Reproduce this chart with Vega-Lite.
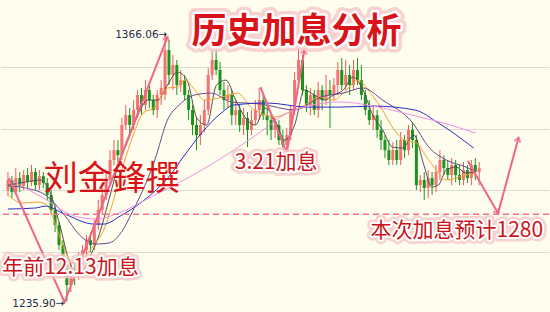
{
  "$schema": "https://vega.github.io/schema/vega-lite/v6.json",
  "width": 550,
  "height": 312,
  "padding": 0,
  "autosize": {"type": "fit", "contains": "padding"},
  "background": "#fffdee",
  "config": {"view": {"stroke": null}},
  "datasets": {
    "candles": [
      {"i":0,"o":1290.1,"h":1298.9,"l":1287.2,"c":1295.0},
      {"i":1,"o":1295.0,"h":1296.9,"l":1286.2,"c":1289.1},
      {"i":2,"o":1289.1,"h":1300.8,"l":1287.7,"c":1295.9},
      {"i":3,"o":1295.9,"h":1298.9,"l":1289.1,"c":1292.1},
      {"i":4,"o":1292.1,"h":1299.8,"l":1290.1,"c":1297.4},
      {"i":5,"o":1297.4,"h":1300.8,"l":1291.1,"c":1294.0},
      {"i":6,"o":1294.0,"h":1302.3,"l":1292.1,"c":1298.9},
      {"i":7,"o":1298.9,"h":1300.8,"l":1290.1,"c":1292.5},
      {"i":8,"o":1292.5,"h":1299.8,"l":1290.1,"c":1296.9},
      {"i":9,"o":1296.9,"h":1298.9,"l":1291.1,"c":1293.5},
      {"i":10,"o":1293.5,"h":1295.9,"l":1285.3,"c":1287.7},
      {"i":11,"o":1287.7,"h":1290.1,"l":1278.0,"c":1280.4},
      {"i":12,"o":1280.4,"h":1282.8,"l":1269.7,"c":1273.1},
      {"i":13,"o":1273.1,"h":1274.6,"l":1261.0,"c":1263.4},
      {"i":14,"o":1263.4,"h":1265.8,"l":1248.8,"c":1253.7},
      {"i":15,"o":1253.7,"h":1257.1,"l":1235.9,"c":1244.0},
      {"i":16,"o":1244.0,"h":1255.1,"l":1240.6,"c":1252.2},
      {"i":17,"o":1252.2,"h":1255.1,"l":1244.0,"c":1248.8},
      {"i":18,"o":1248.8,"h":1260.0,"l":1246.4,"c":1257.1},
      {"i":19,"o":1257.1,"h":1263.4,"l":1253.7,"c":1261.0},
      {"i":20,"o":1261.0,"h":1268.3,"l":1257.1,"c":1265.8},
      {"i":21,"o":1265.8,"h":1269.7,"l":1260.0,"c":1263.4},
      {"i":22,"o":1263.4,"h":1275.5,"l":1261.0,"c":1273.1},
      {"i":23,"o":1273.1,"h":1285.3,"l":1270.7,"c":1280.4},
      {"i":24,"o":1280.4,"h":1291.1,"l":1278.0,"c":1287.7},
      {"i":25,"o":1287.7,"h":1298.9,"l":1285.3,"c":1295.0},
      {"i":26,"o":1295.0,"h":1309.5,"l":1292.5,"c":1304.7},
      {"i":27,"o":1304.7,"h":1314.4,"l":1302.3,"c":1309.5},
      {"i":28,"o":1309.5,"h":1314.4,"l":1303.7,"c":1307.1},
      {"i":29,"o":1307.1,"h":1325.1,"l":1304.7,"c":1321.7},
      {"i":30,"o":1321.7,"h":1331.4,"l":1319.3,"c":1326.5},
      {"i":31,"o":1326.5,"h":1329.9,"l":1316.8,"c":1321.7},
      {"i":32,"o":1321.7,"h":1333.8,"l":1319.3,"c":1329.0},
      {"i":33,"o":1329.0,"h":1338.7,"l":1325.1,"c":1336.3},
      {"i":34,"o":1336.3,"h":1339.7,"l":1326.5,"c":1331.4},
      {"i":35,"o":1331.4,"h":1343.5,"l":1329.0,"c":1338.7},
      {"i":36,"o":1338.7,"h":1341.1,"l":1329.9,"c":1333.8},
      {"i":37,"o":1333.8,"h":1336.3,"l":1326.5,"c":1329.0},
      {"i":38,"o":1329.0,"h":1338.7,"l":1325.1,"c":1336.3},
      {"i":39,"o":1336.3,"h":1343.5,"l":1331.4,"c":1339.7},
      {"i":40,"o":1336.3,"h":1366.06,"l":1333.8,"c":1358.1},
      {"i":41,"o":1358.1,"h":1363.0,"l":1341.1,"c":1346.0},
      {"i":42,"o":1346.0,"h":1355.7,"l":1338.7,"c":1350.8},
      {"i":43,"o":1350.8,"h":1353.3,"l":1336.3,"c":1341.1},
      {"i":44,"o":1341.1,"h":1348.4,"l":1337.7,"c":1343.5},
      {"i":45,"o":1343.5,"h":1346.0,"l":1333.8,"c":1336.3},
      {"i":46,"o":1336.3,"h":1338.7,"l":1324.1,"c":1329.0},
      {"i":47,"o":1329.0,"h":1331.4,"l":1316.8,"c":1321.7},
      {"i":48,"o":1321.7,"h":1325.1,"l":1309.5,"c":1316.8},
      {"i":49,"o":1316.8,"h":1326.5,"l":1312.0,"c":1321.7},
      {"i":50,"o":1321.7,"h":1333.8,"l":1318.3,"c":1329.0},
      {"i":51,"o":1329.0,"h":1349.4,"l":1326.5,"c":1346.0},
      {"i":52,"o":1346.0,"h":1358.1,"l":1343.5,"c":1353.3},
      {"i":53,"o":1353.3,"h":1360.5,"l":1346.0,"c":1348.4},
      {"i":54,"o":1348.4,"h":1352.3,"l":1336.3,"c":1338.7},
      {"i":55,"o":1338.7,"h":1342.6,"l":1329.0,"c":1333.8},
      {"i":56,"o":1333.8,"h":1341.1,"l":1329.9,"c":1336.3},
      {"i":57,"o":1336.3,"h":1338.7,"l":1321.7,"c":1326.5},
      {"i":58,"o":1326.5,"h":1333.8,"l":1321.7,"c":1329.0},
      {"i":59,"o":1329.0,"h":1331.4,"l":1318.3,"c":1321.7},
      {"i":60,"o":1321.7,"h":1329.9,"l":1316.8,"c":1325.1},
      {"i":61,"o":1325.1,"h":1328.0,"l":1311.0,"c":1319.3},
      {"i":62,"o":1319.3,"h":1329.0,"l":1316.8,"c":1324.1},
      {"i":63,"o":1324.1,"h":1333.8,"l":1321.7,"c":1329.0},
      {"i":64,"o":1329.0,"h":1339.7,"l":1324.1,"c":1333.8},
      {"i":65,"o":1333.8,"h":1336.3,"l":1324.1,"c":1326.5},
      {"i":66,"o":1326.5,"h":1331.4,"l":1316.8,"c":1324.1},
      {"i":67,"o":1324.1,"h":1326.5,"l":1314.4,"c":1319.3},
      {"i":68,"o":1319.3,"h":1325.1,"l":1315.4,"c":1321.7},
      {"i":69,"o":1321.7,"h":1324.1,"l":1312.0,"c":1314.4},
      {"i":70,"o":1314.4,"h":1319.3,"l":1308.6,"c":1312.0},
      {"i":71,"o":1312.0,"h":1320.2,"l":1307.1,"c":1316.8},
      {"i":72,"o":1316.8,"h":1331.4,"l":1314.4,"c":1329.0},
      {"i":73,"o":1329.0,"h":1347.4,"l":1326.5,"c":1343.5},
      {"i":74,"o":1343.5,"h":1359.1,"l":1341.1,"c":1353.3},
      {"i":75,"o":1353.3,"h":1355.7,"l":1336.3,"c":1338.7},
      {"i":76,"o":1338.7,"h":1341.1,"l":1328.0,"c":1331.4},
      {"i":77,"o":1331.4,"h":1339.7,"l":1326.5,"c":1336.3},
      {"i":78,"o":1336.3,"h":1338.7,"l":1326.5,"c":1329.0},
      {"i":79,"o":1329.0,"h":1342.6,"l":1325.1,"c":1338.7},
      {"i":80,"o":1338.7,"h":1341.1,"l":1329.0,"c":1333.8},
      {"i":81,"o":1333.8,"h":1346.0,"l":1331.4,"c":1338.7},
      {"i":82,"o":1338.7,"h":1343.5,"l":1320.2,"c":1336.3},
      {"i":83,"o":1336.3,"h":1344.5,"l":1333.8,"c":1341.1},
      {"i":84,"o":1341.1,"h":1352.3,"l":1336.3,"c":1348.4},
      {"i":85,"o":1348.4,"h":1354.2,"l":1338.7,"c":1341.1},
      {"i":86,"o":1341.1,"h":1353.3,"l":1338.7,"c":1346.0},
      {"i":87,"o":1346.0,"h":1350.8,"l":1336.3,"c":1341.1},
      {"i":88,"o":1341.1,"h":1353.3,"l":1338.7,"c":1348.4},
      {"i":89,"o":1348.4,"h":1354.2,"l":1341.1,"c":1343.5},
      {"i":90,"o":1343.5,"h":1350.8,"l":1333.8,"c":1336.3},
      {"i":91,"o":1336.3,"h":1338.7,"l":1326.5,"c":1329.0},
      {"i":92,"o":1329.0,"h":1333.8,"l":1321.7,"c":1324.1},
      {"i":93,"o":1324.1,"h":1331.4,"l":1319.3,"c":1326.5},
      {"i":94,"o":1326.5,"h":1329.0,"l":1315.4,"c":1319.3},
      {"i":95,"o":1319.3,"h":1324.1,"l":1309.5,"c":1314.4},
      {"i":96,"o":1314.4,"h":1316.8,"l":1305.7,"c":1309.5},
      {"i":97,"o":1309.5,"h":1314.4,"l":1302.3,"c":1304.7},
      {"i":98,"o":1304.7,"h":1313.4,"l":1302.3,"c":1309.5},
      {"i":99,"o":1309.5,"h":1314.4,"l":1302.3,"c":1304.7},
      {"i":100,"o":1304.7,"h":1318.3,"l":1302.3,"c":1314.4},
      {"i":101,"o":1314.4,"h":1316.8,"l":1305.7,"c":1309.5},
      {"i":102,"o":1309.5,"h":1321.7,"l":1307.1,"c":1319.3},
      {"i":103,"o":1319.3,"h":1323.1,"l":1310.5,"c":1314.4},
      {"i":104,"o":1314.4,"h":1316.8,"l":1290.1,"c":1292.5},
      {"i":105,"o":1292.5,"h":1297.4,"l":1289.1,"c":1295.0},
      {"i":106,"o":1295.0,"h":1298.9,"l":1285.3,"c":1291.1},
      {"i":107,"o":1291.1,"h":1299.8,"l":1286.2,"c":1295.9},
      {"i":108,"o":1295.9,"h":1298.9,"l":1287.7,"c":1292.5},
      {"i":109,"o":1292.5,"h":1302.3,"l":1289.1,"c":1298.9},
      {"i":110,"o":1298.9,"h":1309.5,"l":1295.0,"c":1304.7},
      {"i":111,"o":1304.7,"h":1307.1,"l":1297.4,"c":1300.8},
      {"i":112,"o":1300.8,"h":1304.7,"l":1295.0,"c":1297.4},
      {"i":113,"o":1297.4,"h":1305.7,"l":1292.5,"c":1302.3},
      {"i":114,"o":1302.3,"h":1304.7,"l":1294.0,"c":1297.4},
      {"i":115,"o":1297.4,"h":1302.3,"l":1292.5,"c":1295.0},
      {"i":116,"o":1295.0,"h":1303.7,"l":1292.5,"c":1299.8},
      {"i":117,"o":1299.8,"h":1302.3,"l":1293.5,"c":1295.9},
      {"i":118,"o":1295.9,"h":1304.7,"l":1292.5,"c":1302.3},
      {"i":119,"o":1302.3,"h":1305.7,"l":1295.0,"c":1298.9},
      {"i":120,"o":1298.9,"h":1303.7,"l":1292.5,"c":1300.8}
    ],
    "ma": [
      {"m":"ma5","i":0,"v":1292.5},{"m":"ma5","i":4.5,"v":1294.0},{"m":"ma5","i":8.2,"v":1295.0},{"m":"ma5","i":10.7,"v":1289.1},{"m":"ma5","i":13.2,"v":1273.1},{"m":"ma5","i":15.7,"v":1255.1},{"m":"ma5","i":18.2,"v":1248.8},{"m":"ma5","i":20.7,"v":1257.1},{"m":"ma5","i":23.2,"v":1268.3},{"m":"ma5","i":25.7,"v":1285.3},{"m":"ma5","i":28.1,"v":1302.3},{"m":"ma5","i":30.6,"v":1314.4},{"m":"ma5","i":33.1,"v":1326.5},{"m":"ma5","i":35.6,"v":1333.8},{"m":"ma5","i":38.1,"v":1333.8},{"m":"ma5","i":40.6,"v":1341.1},{"m":"ma5","i":43.1,"v":1347.4},{"m":"ma5","i":45.6,"v":1343.5},{"m":"ma5","i":48.1,"v":1325.1},{"m":"ma5","i":50.6,"v":1321.7},{"m":"ma5","i":53.1,"v":1341.1},{"m":"ma5","i":55.5,"v":1343.5},{"m":"ma5","i":58.0,"v":1333.8},{"m":"ma5","i":60.5,"v":1325.1},{"m":"ma5","i":63.0,"v":1321.7},{"m":"ma5","i":65.5,"v":1329.9},{"m":"ma5","i":68.0,"v":1324.1},{"m":"ma5","i":70.5,"v":1314.4},{"m":"ma5","i":73.0,"v":1321.7},{"m":"ma5","i":75.5,"v":1338.7},{"m":"ma5","i":78.0,"v":1336.3},{"m":"ma5","i":80.5,"v":1333.8},{"m":"ma5","i":83.0,"v":1336.3},{"m":"ma5","i":85.4,"v":1338.7},{"m":"ma5","i":87.9,"v":1345.0},{"m":"ma5","i":90.4,"v":1338.7},{"m":"ma5","i":92.9,"v":1326.5},{"m":"ma5","i":95.4,"v":1319.3},{"m":"ma5","i":97.9,"v":1311.0},{"m":"ma5","i":100.4,"v":1310.5},{"m":"ma5","i":103.4,"v":1316.8},{"m":"ma5","i":105.9,"v":1302.3},{"m":"ma5","i":107.9,"v":1291.6},{"m":"ma5","i":109.6,"v":1292.5},{"m":"ma5","i":111.6,"v":1299.8},{"m":"ma5","i":114.1,"v":1301.3},{"m":"ma5","i":116.6,"v":1298.4},{"m":"ma5","i":119.1,"v":1298.9},
      {"m":"ma10","i":0,"v":1287.7},{"m":"ma10","i":3.7,"v":1283.8},{"m":"ma10","i":7.7,"v":1284.3},{"m":"ma10","i":10.0,"v":1282.8},{"m":"ma10","i":12.0,"v":1274.1},{"m":"ma10","i":14.4,"v":1261.0},{"m":"ma10","i":16.9,"v":1254.7},{"m":"ma10","i":19.4,"v":1257.6},{"m":"ma10","i":21.9,"v":1263.4},{"m":"ma10","i":24.4,"v":1270.7},{"m":"ma10","i":26.9,"v":1285.3},{"m":"ma10","i":29.4,"v":1302.3},{"m":"ma10","i":31.9,"v":1316.8},{"m":"ma10","i":34.4,"v":1327.5},{"m":"ma10","i":37.4,"v":1330.4},{"m":"ma10","i":40.6,"v":1339.7},{"m":"ma10","i":43.1,"v":1340.1},{"m":"ma10","i":45.1,"v":1343.5},{"m":"ma10","i":47.6,"v":1338.7},{"m":"ma10","i":50.1,"v":1333.8},{"m":"ma10","i":53.6,"v":1334.8},{"m":"ma10","i":58.5,"v":1337.2},{"m":"ma10","i":61.8,"v":1330.4},{"m":"ma10","i":64.3,"v":1327.5},{"m":"ma10","i":68.0,"v":1325.6},{"m":"ma10","i":71.2,"v":1327.5},{"m":"ma10","i":74.7,"v":1330.4},{"m":"ma10","i":79.7,"v":1335.3},{"m":"ma10","i":83.0,"v":1333.8},{"m":"ma10","i":85.4,"v":1337.2},{"m":"ma10","i":89.2,"v":1343.5},{"m":"ma10","i":91.7,"v":1338.7},{"m":"ma10","i":94.9,"v":1330.4},{"m":"ma10","i":98.4,"v":1319.3},{"m":"ma10","i":100.9,"v":1314.4},{"m":"ma10","i":104.1,"v":1312.9},{"m":"ma10","i":106.6,"v":1306.1},{"m":"ma10","i":109.1,"v":1299.8},{"m":"ma10","i":111.6,"v":1295.0},{"m":"ma10","i":116.6,"v":1297.4},{"m":"ma10","i":119.1,"v":1298.4},
      {"m":"ma20","i":0,"v":1292.1},{"m":"ma20","i":4.5,"v":1291.1},{"m":"ma20","i":9.5,"v":1287.7},{"m":"ma20","i":14.4,"v":1278.0},{"m":"ma20","i":18.2,"v":1268.3},{"m":"ma20","i":22.7,"v":1263.9},{"m":"ma20","i":25.7,"v":1264.4},{"m":"ma20","i":28.9,"v":1269.7},{"m":"ma20","i":31.9,"v":1280.4},{"m":"ma20","i":34.9,"v":1292.5},{"m":"ma20","i":37.4,"v":1304.7},{"m":"ma20","i":40.6,"v":1324.1},{"m":"ma20","i":43.6,"v":1331.4},{"m":"ma20","i":47.6,"v":1336.3},{"m":"ma20","i":51.8,"v":1337.2},{"m":"ma20","i":56.8,"v":1332.9},{"m":"ma20","i":64.3,"v":1331.9},{"m":"ma20","i":73.0,"v":1329.0},{"m":"ma20","i":79.7,"v":1335.3},{"m":"ma20","i":85.4,"v":1337.2},{"m":"ma20","i":90.4,"v":1339.7},{"m":"ma20","i":95.4,"v":1333.8},{"m":"ma20","i":102.9,"v":1323.1},{"m":"ma20","i":107.4,"v":1310.5},{"m":"ma20","i":111.6,"v":1304.7},{"m":"ma20","i":116.6,"v":1301.3},{"m":"ma20","i":119.1,"v":1298.9},
      {"m":"ma60","i":0,"v":1280.9},{"m":"ma60","i":7.0,"v":1281.4},{"m":"ma60","i":9.5,"v":1282.3},{"m":"ma60","i":14.4,"v":1278.5},{"m":"ma60","i":21.9,"v":1273.6},{"m":"ma60","i":24.4,"v":1273.6},{"m":"ma60","i":28.6,"v":1277.5},{"m":"ma60","i":34.4,"v":1284.8},{"m":"ma60","i":41.1,"v":1296.9},{"m":"ma60","i":44.8,"v":1306.6},{"m":"ma60","i":49.3,"v":1317.8},{"m":"ma60","i":54.3,"v":1327.5},{"m":"ma60","i":57.5,"v":1331.4},{"m":"ma60","i":66.0,"v":1332.4},{"m":"ma60","i":76.2,"v":1330.4},{"m":"ma60","i":84.7,"v":1330.4},{"m":"ma60","i":92.9,"v":1330.9},{"m":"ma60","i":103.6,"v":1329.0},{"m":"ma60","i":109.6,"v":1322.7},{"m":"ma60","i":118.6,"v":1310.5},
      {"m":"ma120","i":0,"v":1295.9},{"m":"ma120","i":9.5,"v":1285.7},{"m":"ma120","i":16.9,"v":1277.5},{"m":"ma120","i":22.7,"v":1276.0},{"m":"ma120","i":27.6,"v":1278.5},{"m":"ma120","i":36.9,"v":1287.2},{"m":"ma120","i":49.3,"v":1299.8},{"m":"ma120","i":56.8,"v":1308.6},{"m":"ma120","i":64.3,"v":1318.3},{"m":"ma120","i":71.7,"v":1328.0},{"m":"ma120","i":84.7,"v":1332.9},{"m":"ma120","i":92.9,"v":1330.9},{"m":"ma120","i":102.9,"v":1326.5},{"m":"ma120","i":110.8,"v":1322.7},{"m":"ma120","i":119.1,"v":1317.8}
    ],
    "arrows": [
      {"s":"a","k":0,"i":0.25,"p":1295.9},{"s":"a","k":1,"i":14.4,"p":1235.7},{"s":"a","k":2,"i":40.6,"p":1364.4},
      {"s":"b","k":0,"i":64.3,"p":1340.1},{"s":"b","k":1,"i":71.0,"p":1308.1},{"s":"b","k":2,"i":75.5,"p":1358.1},
      {"s":"c","k":0,"i":117.1,"p":1304.2},{"s":"c","k":1,"i":124.8,"p":1278.9},{"s":"c","k":2,"i":130.0,"p":1315.4}
    ],
    "heads": [
      {"h":"a","i":40.6,"p":1364.4},
      {"h":"b","i":75.5,"p":1358.1},
      {"h":"c","i":124.8,"p":1278.9},
      {"h":"d","i":130.0,"p":1315.4}
    ],
    "target": [{"p":1278.4}],
    "labels": [
      {"id":"title","t":"历史加息分析","i":73.5,"p":1366.9},
      {"id":"author","t":"刘金鋒撰","i":26.4,"p":1295.0},
      {"id":"g","t":"3.21加息","i":68.3,"p":1303.2},
      {"id":"g","t":"年前12.13加息","i":15.9,"p":1252.2},
      {"id":"g","t":"本次加息预计1280","i":114.3,"p":1270.2},
      {"id":"v","t":"1366.06→","i":40.6,"p":1365.4},
      {"id":"v","t":"1235.90→","i":14.4,"p":1234.7}
    ]
  },
  "layer": [
    {
      "data": {"name": "candles"},
      "mark": {"type": "rule", "strokeWidth": 1},
      "encoding": {
        "x": {"field": "i", "type": "quantitative", "scale": {"domain": [-0.5, 136.5], "nice": false, "zero": false}, "axis": null},
        "y": {"field": "l", "type": "quantitative", "scale": {"domain": [1230.9, 1382.4], "nice": false, "zero": false},
              "axis": {"values": [1260, 1290, 1320, 1350], "grid": true, "gridColor": "#dcdccf", "gridWidth": 1, "labels": false, "ticks": false, "domain": false, "title": null}},
        "y2": {"field": "h"},
        "color": {"condition": {"test": "datum.c >= datum.o", "value": "#ee5a5a"}, "value": "#1a941a"}
      }
    },
    {
      "data": {"name": "candles"},
      "mark": {"type": "bar", "size": 3},
      "encoding": {
        "x": {"field": "i", "type": "quantitative"},
        "y": {"field": "o", "type": "quantitative"},
        "y2": {"field": "c"},
        "color": {"condition": {"test": "datum.c >= datum.o", "value": "#f47272"}, "value": "#1a941a"}
      }
    },
    {
      "data": {"name": "ma"},
      "mark": {"type": "line", "interpolate": "monotone"},
      "encoding": {
        "x": {"field": "i", "type": "quantitative"},
        "y": {"field": "v", "type": "quantitative"},
        "color": {"field": "m", "type": "nominal", "scale": {"domain": ["ma5", "ma10", "ma20", "ma60", "ma120"], "range": ["#505050", "#f4a030", "#6c4a90", "#2c2cc8", "#ef90e2"]}, "legend": null},
        "strokeWidth": {"field": "m", "type": "nominal", "scale": {"domain": ["ma5", "ma10", "ma20", "ma60", "ma120"], "range": [1, 1, 1.2, 1.5, 1.5]}, "legend": null}
      }
    },
    {
      "data": {"name": "target"},
      "mark": {"type": "rule", "color": "#f0708e", "strokeWidth": 1.5, "strokeDash": [6, 4]},
      "encoding": {"y": {"field": "p", "type": "quantitative"}}
    },
    {
      "data": {"name": "arrows"},
      "mark": {"type": "line", "color": "#f0648a", "strokeWidth": 2},
      "encoding": {
        "x": {"field": "i", "type": "quantitative"},
        "y": {"field": "p", "type": "quantitative"},
        "detail": {"field": "s"},
        "order": {"field": "k"}
      }
    },
    {
      "data": {"name": "heads"},
      "transform": [{"filter": "datum.h == 'a'"}],
      "mark": {"type": "point", "shape": "M -0.7 0.9 L 0 -0.1 L 0.7 0.9", "filled": false, "stroke": "#f0648a", "strokeWidth": 2, "size": 80, "angle": 22},
      "encoding": {"x": {"field": "i", "type": "quantitative"}, "y": {"field": "p", "type": "quantitative"}}
    },
    {
      "data": {"name": "heads"},
      "transform": [{"filter": "datum.h == 'b'"}],
      "mark": {"type": "point", "shape": "M -0.7 0.9 L 0 -0.1 L 0.7 0.9", "filled": false, "stroke": "#f0648a", "strokeWidth": 2, "size": 80, "angle": 10},
      "encoding": {"x": {"field": "i", "type": "quantitative"}, "y": {"field": "p", "type": "quantitative"}}
    },
    {
      "data": {"name": "heads"},
      "transform": [{"filter": "datum.h == 'c'"}],
      "mark": {"type": "point", "shape": "M -0.7 0.9 L 0 -0.1 L 0.7 0.9", "filled": false, "stroke": "#f0648a", "strokeWidth": 2, "size": 80, "angle": 149},
      "encoding": {"x": {"field": "i", "type": "quantitative"}, "y": {"field": "p", "type": "quantitative"}}
    },
    {
      "data": {"name": "heads"},
      "transform": [{"filter": "datum.h == 'd'"}],
      "mark": {"type": "point", "shape": "M -0.7 0.9 L 0 -0.1 L 0.7 0.9", "filled": false, "stroke": "#f0648a", "strokeWidth": 2, "size": 80, "angle": 16},
      "encoding": {"x": {"field": "i", "type": "quantitative"}, "y": {"field": "p", "type": "quantitative"}}
    },
    {
      "data": {"name": "labels"},
      "transform": [{"filter": "datum.id == 'v'"}],
      "mark": {"type": "text", "font": "DejaVu Sans", "fontSize": 10.5, "color": "#1f2d4d", "align": "right", "baseline": "middle"},
      "encoding": {"x": {"field": "i", "type": "quantitative"}, "y": {"field": "p", "type": "quantitative"}, "text": {"field": "t"}}
    },
    {
      "data": {"name": "labels"},
      "transform": [{"filter": "datum.id == 'title'"}],
      "mark": {"type": "text", "font": "Noto Sans CJK SC", "fontSize": 35, "fontWeight": "bold", "align": "center", "baseline": "middle", "fill": "#f4bcbc", "stroke": "#f6c8c8", "strokeWidth": 12, "strokeJoin": "round", "opacity": 0.8},
      "encoding": {"x": {"field": "i", "type": "quantitative"}, "y": {"field": "p", "type": "quantitative"}, "text": {"field": "t"}}
    },
    {
      "data": {"name": "labels"},
      "transform": [{"filter": "datum.id == 'title'"}],
      "mark": {"type": "text", "font": "Noto Sans CJK SC", "fontSize": 35, "fontWeight": "bold", "align": "center", "baseline": "middle", "fill": "#ffffff", "stroke": "#ffffff", "strokeWidth": 5, "strokeJoin": "round"},
      "encoding": {"x": {"field": "i", "type": "quantitative"}, "y": {"field": "p", "type": "quantitative"}, "text": {"field": "t"}}
    },
    {
      "data": {"name": "labels"},
      "transform": [{"filter": "datum.id == 'title'"}],
      "mark": {"type": "text", "font": "Noto Sans CJK SC", "fontSize": 35, "fontWeight": "bold", "align": "center", "baseline": "middle", "fill": "#d8141a"},
      "encoding": {"x": {"field": "i", "type": "quantitative"}, "y": {"field": "p", "type": "quantitative"}, "text": {"field": "t"}}
    },
    {
      "data": {"name": "labels"},
      "transform": [{"filter": "datum.id == 'g'"}],
      "mark": {"type": "text", "font": "Noto Sans CJK SC", "fontSize": 21, "align": "center", "baseline": "middle", "fill": "#f4bcbc", "stroke": "#f6c8c8", "strokeWidth": 9, "strokeJoin": "round", "opacity": 0.8},
      "encoding": {"x": {"field": "i", "type": "quantitative"}, "y": {"field": "p", "type": "quantitative"}, "text": {"field": "t"}}
    },
    {
      "data": {"name": "labels"},
      "transform": [{"filter": "datum.id == 'g'"}],
      "mark": {"type": "text", "font": "Noto Sans CJK SC", "fontSize": 21, "align": "center", "baseline": "middle", "fill": "#ffffff", "stroke": "#ffffff", "strokeWidth": 4, "strokeJoin": "round"},
      "encoding": {"x": {"field": "i", "type": "quantitative"}, "y": {"field": "p", "type": "quantitative"}, "text": {"field": "t"}}
    },
    {
      "data": {"name": "labels"},
      "transform": [{"filter": "datum.id == 'g'"}],
      "mark": {"type": "text", "font": "Noto Sans CJK SC", "fontSize": 21, "align": "center", "baseline": "middle", "fill": "#c8141a"},
      "encoding": {"x": {"field": "i", "type": "quantitative"}, "y": {"field": "p", "type": "quantitative"}, "text": {"field": "t"}}
    },
    {
      "data": {"name": "labels"},
      "transform": [{"filter": "datum.id == 'author'"}],
      "mark": {"type": "text", "font": "Noto Sans CJK SC", "fontSize": 34, "align": "center", "baseline": "middle", "fill": "#d8141a"},
      "encoding": {"x": {"field": "i", "type": "quantitative"}, "y": {"field": "p", "type": "quantitative"}, "text": {"field": "t"}}
    }
  ]
}
